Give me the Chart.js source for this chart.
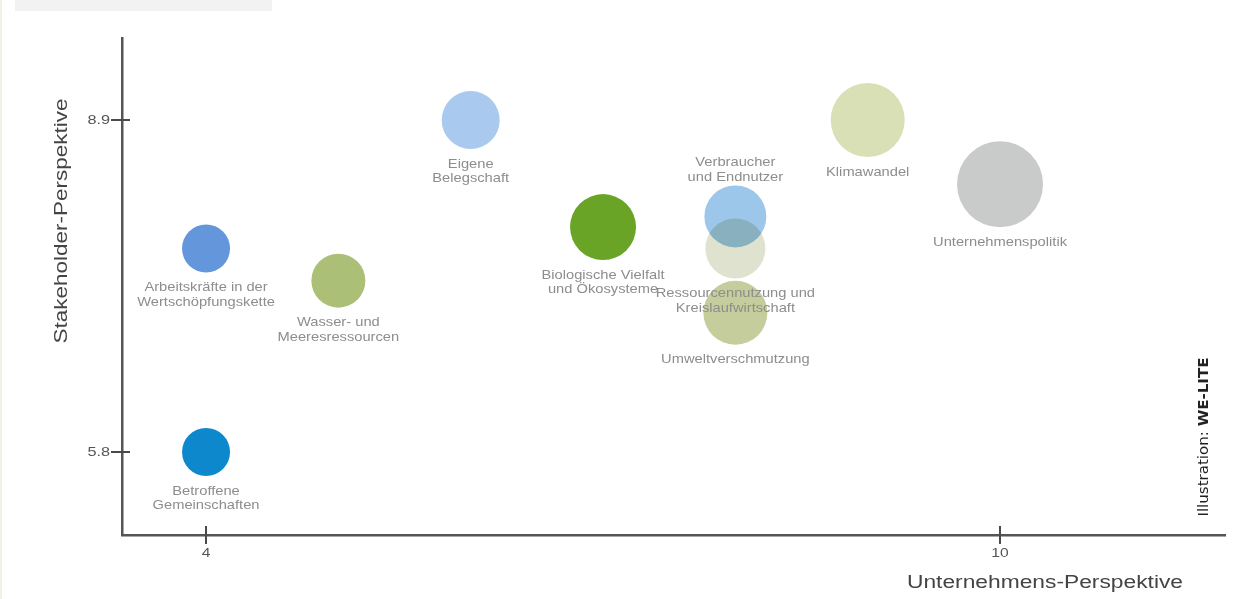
<!DOCTYPE html>
<html lang="de">
<head>
<meta charset="utf-8">
<title>Wesentlichkeitsmatrix</title>
<script src="https://cdn.jsdelivr.net/npm/chart.js@4.4.1/dist/chart.umd.min.js"></script>
<style>
  html, body { margin: 0; padding: 0; background: #ffffff; }
  #wrap { position: relative; width: 1237px; height: 599px; }
</style>
</head>
<body>
<div id="wrap"><canvas id="matrix"></canvas></div>
<script>
// Themen der Wesentlichkeitsmatrix (Zeilen je Beschriftung)
const topics = [
  ['Arbeitskräfte in der', 'Wertschöpfungskette'],
  ['Wasser- und', 'Meeresressourcen'],
  ['Eigene', 'Belegschaft'],
  ['Biologische Vielfalt', 'und Ökosysteme'],
  ['Verbraucher', 'und Endnutzer'],
  ['Ressourcennutzung und', 'Kreislaufwirtschaft'],
  ['Umweltverschmutzung'],
  ['Klimawandel'],
  ['Unternehmenspolitik'],
  ['Betroffene', 'Gemeinschaften']
];
// Unternehmens-Perspektive (x)
const companyScores = [4, 5, 6, 7, 8, 8, 8, 9, 10, 4];
// Stakeholder-Perspektive (y)
const stakeholderScores = [7.7, 7.4, 8.9, 7.9, 8.0, 7.7, 7.1, 8.9, 8.3, 5.8];
// Gewichtung = Blasenradius
const weights = [24, 27, 29, 33, 31, 30, 32, 37, 43, 24];
// Beschriftung oberhalb statt unterhalb der Blase
const labelAbove = [false, false, false, false, true, false, false, false, false, false];

const xTicks = [4, 10];
const yTicks = [5.8, 8.9];
const xTitle = 'Unternehmens-Perspektive';
const yTitle = 'Stakeholder-Perspektive';

const palette = ['#6396da', '#abc076', '#a9c9ee', '#6aa427', '#9cc7ea',
                 '#dfe2cf', '#c5cd9c', '#d9e0b5', '#c9cbcb', '#0e88cc'];

const points = companyScores.map((x, i) => ({ x, y: stakeholderScores[i], r: weights[i] }));

const FONT = '"Liberation Sans", Arial, Helvetica, sans-serif';

// Text mit horizontaler Streckung zeichnen
function drawText(ctx, text, x, y, font, color, stretch, align) {
  ctx.save();
  ctx.font = font;
  ctx.fillStyle = color;
  ctx.textBaseline = 'middle';
  ctx.textAlign = align || 'center';
  ctx.translate(x, y);
  ctx.scale(stretch, 1);
  ctx.fillText(text, 0, 0);
  ctx.restore();
}

// Text auf eine Zielbreite gestreckt zeichnen (optional gedreht)
function drawFitted(ctx, text, cx, cy, font, color, width, rotate) {
  ctx.save();
  ctx.font = font;
  const w = ctx.measureText(text).width;
  ctx.translate(cx, cy);
  if (rotate) ctx.rotate(rotate);
  ctx.scale(width / w, 1);
  ctx.fillStyle = color;
  ctx.textAlign = 'center';
  ctx.textBaseline = 'middle';
  ctx.fillText(text, 0, 0);
  ctx.restore();
}

// Überlappende Blasen multiplizieren, danach Beschriftungen
const blendPlugin = {
  id: 'blend',
  beforeDatasetsDraw(chart) {
    chart.ctx.save();
    chart.ctx.globalCompositeOperation = 'multiply';
  },
  afterDatasetsDraw(chart) {
    chart.ctx.restore();
    const ctx = chart.ctx;
    const meta = chart.getDatasetMeta(0);
    meta.data.forEach((el, i) => {
      const r = el.options.radius;
      const lines = topics[i];
      const lh = 14.5;
      let y0;
      if (labelAbove[i]) {
        y0 = el.y - r - 8 - (lines.length - 1) * lh;
      } else {
        y0 = el.y + r + 15;
      }
      lines.forEach((t, k) => {
        drawText(ctx, t, el.x, y0 + k * lh, '13px ' + FONT, '#8d8d8d', 1.13);
      });
    });
  }
};

// Achsenstriche, Tick-Beschriftungen, Achsentitel und Bildnachweis
const axisPlugin = {
  id: 'axisDecor',
  beforeDraw(chart) {
    const ctx = chart.ctx;
    ctx.save();
    ctx.fillStyle = '#f2f2f2';
    ctx.fillRect(15, 0, 257, 11);
    ctx.fillStyle = '#eef3e8';
    ctx.fillRect(0, 0, 2, chart.height);
    ctx.restore();
  },
  afterDraw(chart) {
    const ctx = chart.ctx;
    const xs = chart.scales.x, ys = chart.scales.y;
    const area = chart.chartArea;
    ctx.save();
    ctx.strokeStyle = '#4a4a4a';
    ctx.lineWidth = 2;
    yTicks.forEach(v => {
      const py = Math.round(ys.getPixelForValue(v));
      ctx.beginPath();
      ctx.moveTo(area.left - 11, py);
      ctx.lineTo(area.left + 8, py);
      ctx.stroke();
      drawText(ctx, String(v), area.left - 12, py, '13px ' + FONT, '#555555', 1.25, 'right');
    });
    xTicks.forEach(v => {
      const px = Math.round(xs.getPixelForValue(v));
      ctx.beginPath();
      ctx.moveTo(px, area.bottom - 9);
      ctx.lineTo(px, area.bottom + 9);
      ctx.stroke();
      drawText(ctx, String(v), px, area.bottom + 18, '13px ' + FONT, '#555555', 1.2, 'center');
    });
    ctx.restore();

    drawFitted(ctx, xTitle, 1045, 583, '18px ' + FONT, '#444444', 276, 0);
    drawFitted(ctx, yTitle, 62, 221, '18px ' + FONT, '#444444', 245, -Math.PI / 2);

    // Bildnachweis, senkrecht
    ctx.save();
    ctx.translate(1204, 437);
    ctx.rotate(-Math.PI / 2);
    ctx.fillStyle = '#222222';
    ctx.textBaseline = 'middle';
    const f1 = '14px "DejaVu Sans Condensed", "DejaVu Sans", sans-serif';
    const f2 = 'bold 14px "DejaVu Sans Condensed", "DejaVu Sans", sans-serif';
    const a = 'Illustration: ', b = 'WE-LITE';
    ctx.font = f1; const wa = ctx.measureText(a).width;
    ctx.font = f2; const wb = ctx.measureText(b).width;
    const s = 159 / (wa + wb);
    ctx.scale(s, 1);
    const start = -(wa + wb) / 2;
    ctx.textAlign = 'left';
    ctx.font = f1; ctx.fillText(a, start, 0);
    ctx.font = f2; ctx.fillText(b, start + wa, 0);
    ctx.restore();
  }
};

new Chart(document.getElementById('matrix'), {
  type: 'bubble',
  data: {
    datasets: [{
      data: points,
      backgroundColor: palette,
      hoverBackgroundColor: palette,
      borderWidth: 0,
      hoverBorderWidth: 0
    }]
  },
  options: {
    responsive: true,
    maintainAspectRatio: false,
    animation: false,
    events: [],
    layout: { autoPadding: false, padding: { top: 38, right: 12, left: 0, bottom: 0 } },
    plugins: { legend: { display: false }, tooltip: { enabled: false } },
    scales: {
      x: {
        type: 'linear',
        min: 3.365,
        max: 11.70,
        afterFit(scale) { scale.height = 64; },
        grid: { display: false },
        border: { display: true, color: '#555555', width: 2.5 },
        ticks: { display: false }
      },
      y: {
        type: 'linear',
        min: 5.025,
        max: 9.666,
        afterFit(scale) { scale.width = 122; },
        grid: { display: false },
        border: { display: true, color: '#555555', width: 2.5 },
        ticks: { display: false }
      }
    }
  },
  plugins: [blendPlugin, axisPlugin]
});
</script>
</body>
</html>
